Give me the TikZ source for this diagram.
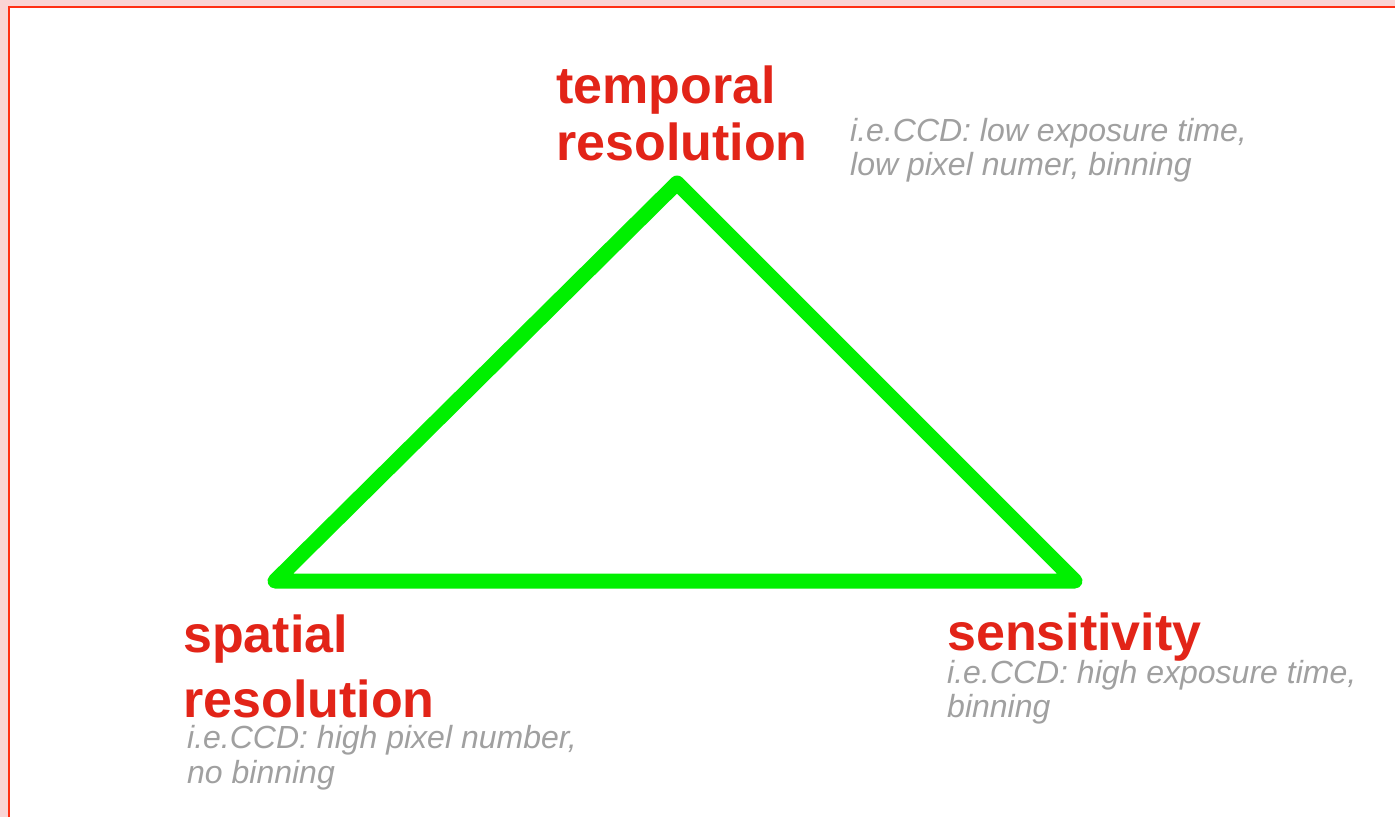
\documentclass[tikz,border=0pt]{standalone}
\usepackage{fontspec}
\setmainfont{Liberation Sans}
\definecolor{framepink}{RGB}{250,213,213}
\definecolor{framered}{RGB}{255,48,20}
\definecolor{tribgreen}{RGB}{0,240,0}
\definecolor{labelred}{RGB}{226,36,24}
\definecolor{notegray}{RGB}{160,160,160}
\begin{document}
\begin{tikzpicture}[x=1pt,y=-1pt,
  % labels are placed at the baseline of their last line
  corner/.style={anchor=base west,inner sep=0pt,align=left,text=labelred,
    font=\fontsize{52}{57}\selectfont\bfseries},
  note/.style={anchor=base west,inner sep=0pt,align=left,text=notegray,
    font=\fontsize{32}{33.5}\selectfont\itshape},
  edge/.style={draw=tribgreen,line width=15pt,line join=round,line cap=round}]
  % page and frame
  \useasboundingbox (0,0) rectangle (1395,817);
  \fill[framepink] (0,0) rectangle (1395,817);
  \fill[white] (10,8) rectangle (1395,817);
  \draw[framered,line width=2pt] (9,817) -- (9,7) -- (1395,7);
  % triangle corners
  \coordinate (T) at (677,183);
  \coordinate (L) at (275,581);
  \coordinate (R) at (1075,581);
  \draw[edge] (L) -- (T) -- (R) -- cycle;
  % corner labels
  \node[corner] (temporal) at (556,160) {temporal\\resolution};
  \node[corner,font=\fontsize{52}{65}\selectfont\bfseries] (spatial) at (183,717) {spatial\\resolution};
  \node[corner] (sensitivity) at (947,650) {sensitivity};
  % notes
  \node[note] (tempnote) at (850,175) {i.e.CCD: low exposure time,\\low pixel numer, binning};
  \node[note,font=\fontsize{32}{35}\selectfont\itshape] (spatnote) at (187,783) {i.e.CCD: high pixel number,\\no binning};
  \node[note] (sensnote) at (947,717) {i.e.CCD: high exposure time,\\binning};
\end{tikzpicture}
\end{document}
